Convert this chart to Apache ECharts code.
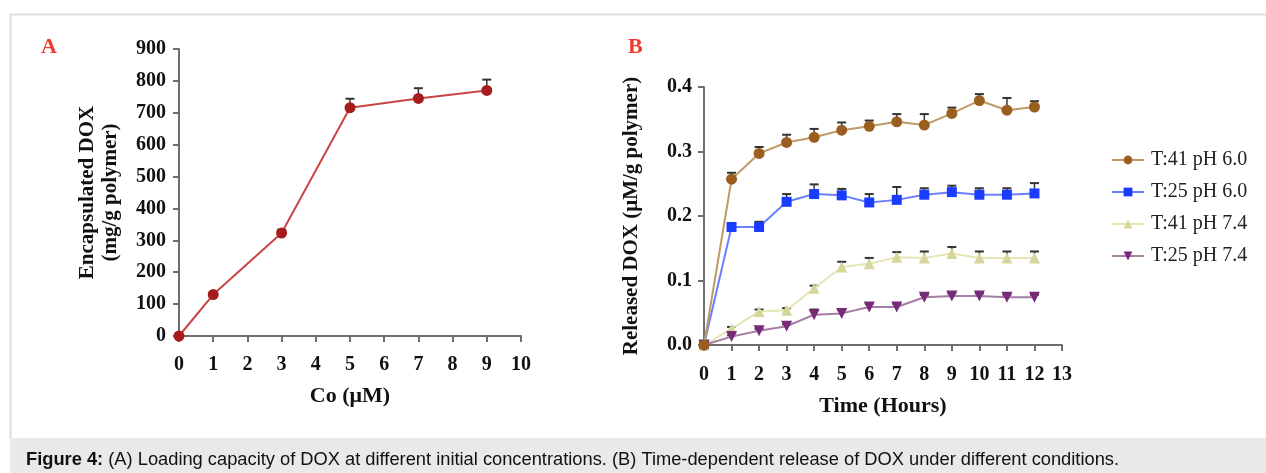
<!DOCTYPE html>
<html>
<head>
<meta charset="utf-8">
<script src="https://cdn.jsdelivr.net/npm/echarts@6/dist/echarts.min.js"></script>
<style>
html,body{margin:0;padding:0;background:#fff;}
#chart{width:1266px;height:473px;}
</style>
</head>
<body>
<div id="chart"></div>
<script>
// ---- Panel A data ----
const concA = [0, 1, 3, 5, 7, 9];
const loadA = [0, 130, 323, 716, 745, 770];
const errA = [0, 6, 10, 28, 32, 34];

// ---- Panel B data ----
const timeB = [0, 1, 2, 3, 4, 5, 6, 7, 8, 9, 10, 11, 12];
const seriesNames = ['T:41 pH 6.0', 'T:25 pH 6.0', 'T:41 pH 7.4', 'T:25 pH 7.4'];
const t41ph60 = [0, 0.257, 0.297, 0.314, 0.322, 0.333, 0.339, 0.346, 0.341, 0.359, 0.379, 0.364, 0.369];
const t41ph60Err = [0, 0.010, 0.010, 0.012, 0.013, 0.012, 0.009, 0.012, 0.017, 0.009, 0.010, 0.019, 0.009];
const t25ph60 = [0, 0.183, 0.183, 0.222, 0.234, 0.232, 0.221, 0.225, 0.233, 0.237, 0.233, 0.233, 0.235];
const t25ph60Err = [0, 0.006, 0.008, 0.012, 0.015, 0.010, 0.013, 0.020, 0.010, 0.010, 0.010, 0.010, 0.016];
const t41ph74 = [0, 0.025, 0.052, 0.054, 0.088, 0.121, 0.126, 0.136, 0.135, 0.142, 0.135, 0.135, 0.135];
const t41ph74Err = [0, 0.003, 0.003, 0.003, 0.004, 0.008, 0.009, 0.008, 0.010, 0.010, 0.010, 0.010, 0.010];
const t25ph74 = [0, 0.013, 0.022, 0.029, 0.047, 0.049, 0.059, 0.059, 0.074, 0.076, 0.076, 0.074, 0.074];
const t25ph74Err = [0, 0.002, 0.003, 0.003, 0.008, 0.005, 0.005, 0.005, 0.004, 0.004, 0.004, 0.004, 0.004];

const captionBold = 'Figure 4:';
const captionText = ' (A) Loading capacity of DOX at different initial concentrations. (B) Time-dependent release of DOX under different conditions.';

const serif = 'Liberation Serif, Times New Roman, serif';
const axisColor = '#6e6e6e';

function pairs(xs, ys) { return xs.map((x, i) => [x, ys[i]]); }
function errPairs(xs, ys, es) { return xs.map((x, i) => [x, ys[i], es[i]]); }

function errSeries(data, xi, yi) {
  return {
    type: 'custom',
    xAxisIndex: xi, yAxisIndex: yi,
    z: 1,
    silent: true,
    data: data,
    renderItem: function (params, api) {
      const x = api.value(0), y = api.value(1), e = api.value(2);
      if (!e) return null;
      const p0 = api.coord([x, y]);
      const p1 = api.coord([x, y + e]);
      return {
        type: 'group',
        children: [
          { type: 'line', shape: { x1: p0[0], y1: p0[1], x2: p1[0], y2: p1[1] }, style: { stroke: '#333', lineWidth: 1.5 } },
          { type: 'line', shape: { x1: p1[0] - 4.5, y1: p1[1], x2: p1[0] + 4.5, y2: p1[1] }, style: { stroke: '#333', lineWidth: 2 } }
        ]
      };
    }
  };
}

function valueAxis(common) {
  return Object.assign({
    type: 'value',
    axisLine: { show: true, lineStyle: { color: axisColor, width: 2 } },
    axisTick: { show: true, length: 6, lineStyle: { color: axisColor, width: 2 } },
    splitLine: { show: false },
    axisLabel: { color: '#111', fontFamily: serif, fontWeight: 'bold', fontSize: 20 },
    nameTextStyle: { color: '#111', fontFamily: serif, fontWeight: 'bold', fontSize: 21 }
  }, common);
}

const chart = echarts.init(document.getElementById('chart'), null, { renderer: 'canvas' });

const option = {
  backgroundColor: '#ffffff',
  animation: false,
  grid: [
    { left: 179, right: 745, top: 49, bottom: 137 },
    { left: 704, right: 204, top: 87, bottom: 128 }
  ],
  xAxis: [
    valueAxis({ gridIndex: 0, min: 0, max: 10, interval: 1, name: 'Co (μM)', nameLocation: 'middle', nameGap: 49,
      axisLabel: { color: '#111', fontFamily: serif, fontWeight: 'bold', fontSize: 20, margin: 19 },
      nameTextStyle: { color: '#111', fontFamily: serif, fontWeight: 'bold', fontSize: 22 } }),
    valueAxis({ gridIndex: 1, min: 0, max: 13, interval: 1, name: 'Time (Hours)', nameLocation: 'middle', nameGap: 50,
      axisLabel: { color: '#111', fontFamily: serif, fontWeight: 'bold', fontSize: 20, margin: 20 },
      nameTextStyle: { color: '#111', fontFamily: serif, fontWeight: 'bold', fontSize: 22 } })
  ],
  yAxis: [
    valueAxis({ gridIndex: 0, min: 0, max: 900, interval: 100, name: 'Encapsulated DOX\n(mg/g polymer)', nameLocation: 'middle', nameGap: 57,
      nameTextStyle: { color: '#111', fontFamily: serif, fontWeight: 'bold', fontSize: 21, lineHeight: 23 },
      axisLabel: { color: '#111', fontFamily: serif, fontWeight: 'bold', fontSize: 20, margin: 13 } }),
    valueAxis({ gridIndex: 1, min: 0, max: 0.4, interval: 0.1, name: 'Released DOX (μM/g polymer)', nameLocation: 'middle', nameGap: 62,
      nameTextStyle: { color: '#111', fontFamily: serif, fontWeight: 'bold', fontSize: 21 },
      axisLabel: { color: '#111', fontFamily: serif, fontWeight: 'bold', fontSize: 20, margin: 12, formatter: v => v.toFixed(1) } })
  ],
  legend: {
    data: seriesNames,
    orient: 'vertical',
    left: 1106,
    top: 145,
    itemWidth: 32,
    itemHeight: 11,
    itemGap: 12,
    textStyle: { fontFamily: serif, fontSize: 20, color: '#222', padding: [0, 0, 0, 2] }
  },
  series: [
    { type: 'line', name: 'loading', xAxisIndex: 0, yAxisIndex: 0, data: pairs(concA, loadA),
      symbol: 'circle', symbolSize: 11, z: 3,
      lineStyle: { color: '#c94545', width: 2 }, itemStyle: { color: '#a61c1c' } },
    errSeries(errPairs(concA, loadA, errA), 0, 0),

    { type: 'line', name: seriesNames[1], xAxisIndex: 1, yAxisIndex: 1, data: pairs(timeB, t25ph60),
      symbol: 'rect', symbolSize: 10, z: 3,
      lineStyle: { color: '#6b80ff', width: 2 }, itemStyle: { color: '#1a3cff' } },
    { type: 'line', name: seriesNames[2], xAxisIndex: 1, yAxisIndex: 1, data: pairs(timeB, t41ph74),
      symbol: 'triangle', symbolSize: 11, z: 3,
      lineStyle: { color: '#e6e6b4', width: 2 }, itemStyle: { color: '#d6d69c' } },
    { type: 'line', name: seriesNames[3], xAxisIndex: 1, yAxisIndex: 1, data: pairs(timeB, t25ph74),
      symbol: 'triangle', symbolRotate: 180, symbolSize: 11, z: 3,
      lineStyle: { color: '#a57ca5', width: 2 }, itemStyle: { color: '#762a78' } },
    { type: 'line', name: seriesNames[0], xAxisIndex: 1, yAxisIndex: 1, data: pairs(timeB, t41ph60),
      symbol: 'circle', symbolSize: 11, z: 4,
      lineStyle: { color: '#bf9a66', width: 2 }, itemStyle: { color: '#9a5e1f' } },
    errSeries(errPairs(timeB, t41ph60, t41ph60Err), 1, 1),
    errSeries(errPairs(timeB, t25ph60, t25ph60Err), 1, 1),
    errSeries(errPairs(timeB, t41ph74, t41ph74Err), 1, 1),
    errSeries(errPairs(timeB, t25ph74, t25ph74Err), 1, 1)
  ],
  graphic: [
    { type: 'line', shape: { x1: 10, y1: 14.5, x2: 1266, y2: 14.5 }, style: { stroke: '#dedede', lineWidth: 2 }, z: 0 },
    { type: 'line', shape: { x1: 10.5, y1: 14, x2: 10.5, y2: 438 }, style: { stroke: '#dedede', lineWidth: 2 }, z: 0 },
    { type: 'rect', shape: { x: 10, y: 438, width: 1256, height: 35 }, style: { fill: '#e9e9e9' }, z: 0 },
    { type: 'text', left: 26, top: 451, z: 1,
      style: { text: '{b|' + captionBold + '}' + captionText, fontFamily: 'Liberation Sans, Arial, sans-serif', fontSize: 18.3, fill: '#111',
        rich: { b: { fontWeight: 'bold', fontFamily: 'Liberation Sans, Arial, sans-serif', fontSize: 18.3, fill: '#111' } } } },
    { type: 'text', left: 41, top: 36, z: 1,
      style: { text: 'A', fontFamily: serif, fontWeight: 'bold', fontSize: 22, fill: '#ee3b30' } },
    { type: 'text', left: 628, top: 36, z: 1,
      style: { text: 'B', fontFamily: serif, fontWeight: 'bold', fontSize: 22, fill: '#ee3b30' } }
  ]
};

chart.setOption(option);
</script>
</body>
</html>
